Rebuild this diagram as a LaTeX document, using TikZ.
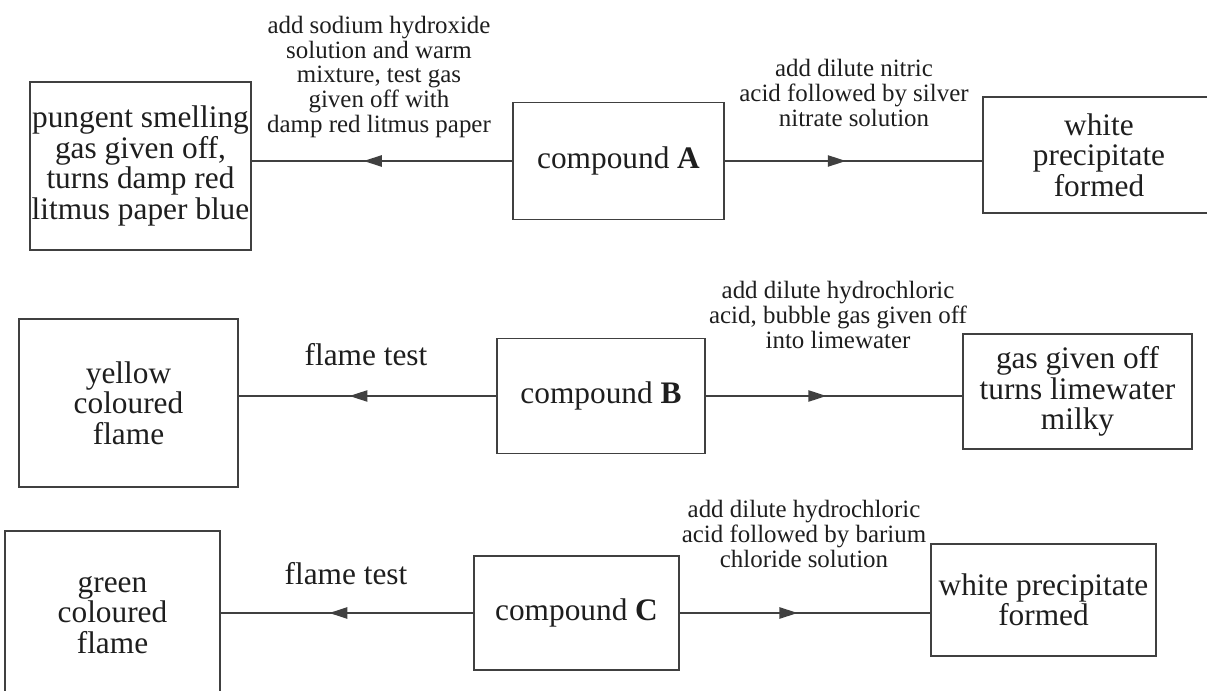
\documentclass[tikz,border=0pt]{standalone}
\usepackage{fontspec}
\setmainfont{Liberation Serif}
\usepackage{tikz}
\usetikzlibrary{arrows.meta}
\usetikzlibrary{decorations.markings}

\definecolor{inkline}{RGB}{64,64,64}
\definecolor{inktext}{RGB}{30,30,30}

\tikzset{
  testbox/.style={draw=inkline, line width=1.1pt, text=inktext, align=center, inner sep=0pt,
    font={\fontsize{23.5pt}{22.9pt}\selectfont}},
  steplabel/.style={text=inktext, align=center, inner sep=0pt,
    font={\fontsize{18.7pt}{18.6pt}\selectfont}},
  flamelabel/.style={text=inktext, inner sep=0pt, font={\fontsize{23.5pt}{22.9pt}\selectfont}},
  midarrow/.style={draw=inkline, line width=1.1pt, postaction={decorate},
    decoration={markings, mark=at position #1 with {\arrow[inkline]{Triangle[length=13.5pt,width=8.5pt]}}}}
}

\begin{document}
\begin{tikzpicture}[x=0.75pt,y=0.75pt,yscale=-1,xscale=1]
\useasboundingbox (0,0) rectangle (1207,691);

% compound A
\node [testbox, minimum width=165.75pt, minimum height=126pt] (gasbox) at (140.5,166) {pungent smelling\\gas given off,\\turns damp red\\litmus paper blue};
\node [testbox, minimum width=158.25pt, minimum height=87.75pt] (compA) at (618.5,161) {compound \textbf{A}};
\node [testbox, minimum width=174pt, minimum height=87pt] (precipA) at (1099,155) {white\\precipitate\\formed};
\node [steplabel] (naohlabel) at (379,77) {add sodium hydroxide\\solution and warm\\mixture, test gas\\given off with\\damp red litmus paper};
\node [steplabel] (silverlabel) at (854,93) {add dilute nitric\\acid followed by silver\\nitrate solution};

% compound B
\node [testbox, minimum width=164.25pt, minimum height=126pt] (yellowbox) at (128.5,403) {yellow\\coloured\\flame};
\node [testbox, minimum width=156pt, minimum height=86.25pt] (compB) at (601,396) {compound \textbf{B}};
\node [testbox, minimum width=171.75pt, minimum height=86.25pt] (limebox) at (1077.5,391.5) {gas given off\\turns limewater\\milky};
\node [flamelabel] (flameB) at (366,355) {flame test};
\node [steplabel] (hcllabel) at (838,315) {add dilute hydrochloric\\acid, bubble gas given off\\into limewater};

% compound C
\node [testbox, minimum width=161.25pt, minimum height=126pt] (greenbox) at (112.5,615) {green\\coloured\\flame};
\node [testbox, minimum width=153.75pt, minimum height=85.5pt] (compC) at (576.5,613) {compound \textbf{C}};
\node [testbox, minimum width=168.75pt, minimum height=84pt] (bariumbox) at (1043.5,600) {white precipitate\\formed};
\node [flamelabel] (flameC) at (346,574) {flame test};
\node [steplabel] (bariumlabel) at (804,534) {add dilute hydrochloric\\acid followed by barium\\chloride solution};

% Connection
\draw [midarrow=0.57] (compA.west) -- (compA.west -| gasbox.east);
\draw [midarrow=0.47] (compA.east) -- (compA.east -| precipA.west);
\draw [midarrow=0.57] (compB.west) -- (compB.west -| yellowbox.east);
\draw [midarrow=0.47] (compB.east) -- (compB.east -| limebox.west);
\draw [midarrow=0.57] (compC.west) -- (compC.west -| greenbox.east);
\draw [midarrow=0.47] (compC.east) -- (compC.east -| bariumbox.west);

\end{tikzpicture}
\end{document}
